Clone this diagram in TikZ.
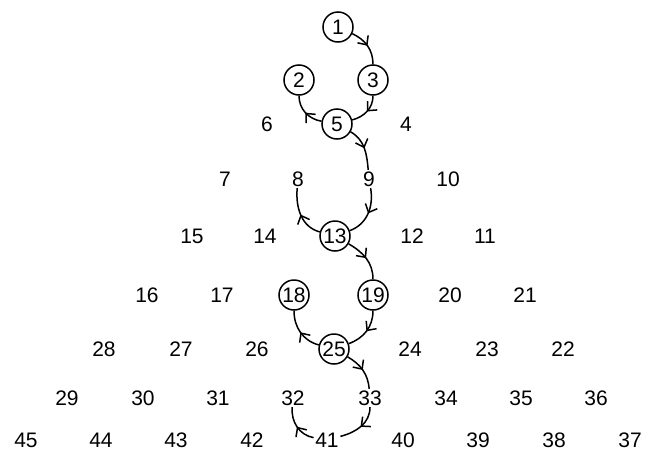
\documentclass[tikz,border=0pt]{standalone}
\usepackage{fontspec}
\setmainfont{Liberation Sans}
\usetikzlibrary{arrows.meta, decorations.markings}
\tikzset{
  every picture/.style={line width=1.5pt},
  num/.style={inner sep=1pt, font=\fontsize{21}{21}\selectfont},
  ring/.style={num, draw, circle, minimum size=30pt, inner sep=0pt},
  link/.style={postaction={decorate}, decoration={markings,
      mark=at position 0.5 with {\arrow{Straight Barb[length=7pt, width=13pt]}}}},
}

\begin{document}
\begin{tikzpicture}[x=1pt, y=-1pt]
  \useasboundingbox (0,0) rectangle (651,453);
  % ---------- ringed numbers on the path ----------
  \node[ring] (n1) at (338,27) {1};
  \node[ring] (n2) at (299,80) {2};
  \node[ring] (n3) at (373,80) {3};
  \node[ring] (n5) at (337,124) {5};
  \node[ring] (n13) at (335,236) {13};
  \node[ring] (n18) at (294,295) {18};
  \node[ring] (n19) at (373,295) {19};
  \node[ring] (n25) at (334,349) {25};
  % ---------- the other numbers, row by row ----------
  \foreach \n/\x in {6/267, 4/406} \node[num] (n\n) at (\x,124) {\n};
  \foreach \n/\x in {7/225, 8/298, 9/369, 10/448} \node[num] (n\n) at (\x,179) {\n};
  \foreach \n/\x in {15/192, 14/265, 12/412, 11/485} \node[num] (n\n) at (\x,236) {\n};
  \foreach \n/\x in {16/147, 17/222, 20/450, 21/525} \node[num] (n\n) at (\x,295) {\n};
  \foreach \n/\x in {28/104, 27/181, 26/257, 24/410, 23/487, 22/563} \node[num] (n\n) at (\x,349) {\n};
  \foreach \n/\x in {29/67, 30/143, 31/218, 32/293, 33/370, 34/446, 35/521, 36/596} \node[num] (n\n) at (\x,398) {\n};
  \foreach \n/\x in {45/26, 44/101, 43/176, 42/252, 41/327, 40/403, 39/478, 38/554, 37/630} \node[num] (n\n) at (\x,440) {\n};
  % ---------- curved steps, arrow half way ----------
  \draw[link] (n1) to[out=-25, in=90] (n3);
  \draw[link] (n3) to[out=-90, in=15] (n5);
  \draw[link] (n5) to[out=170, in=-90] (n2);
  \draw[link] (n5) to[out=-30, in=95] (n9);
  \draw[link] (n9) to[out=-80, in=20] (n13);
  \draw[link] (n13) to[out=165, in=-95] (n8);
  \draw[link] (n13) to[out=-30, in=90] (n19);
  \draw[link] (n19) to[out=-90, in=20] (n25);
  \draw[link] (n25) to[out=165, in=-90] (n18);
  \draw[link] (n25) to[out=-30, in=95] (n33);
  \draw[link] (n33) to[out=-90, in=15] (n41);
  \draw[link] (n41) to[out=170, in=-95] (n32);
\end{tikzpicture}
\end{document}
